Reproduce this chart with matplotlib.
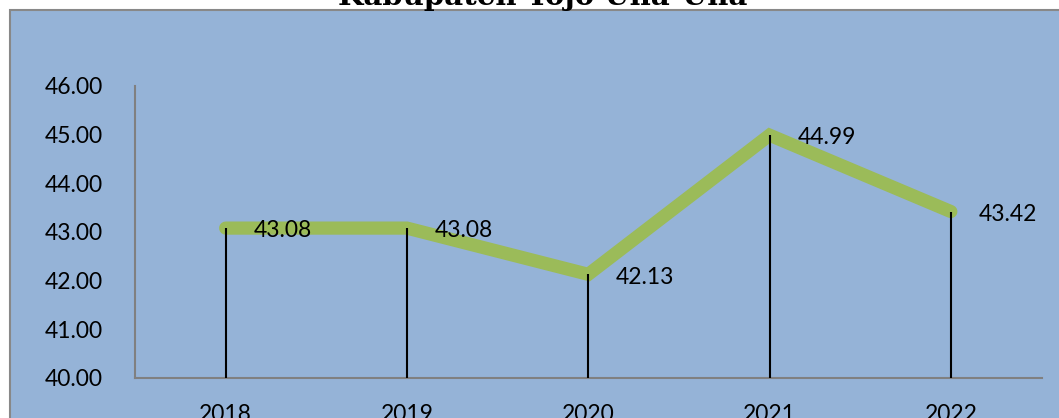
import matplotlib.pyplot as plt
from matplotlib.patches import Rectangle

# data
years = ["2018", "2019", "2020", "2021", "2022"]
values = [43.08, 43.08, 42.13, 44.99, 43.42]
y_ticks = [40, 41, 42, 43, 44, 45, 46]
title = "Kabupaten Tojo Una-Una"

W, H = 1059, 418
BLUE = "#95B3D7"
GREEN = "#9BBB59"
FS = 16.5

fig = plt.figure(figsize=(W / 100, H / 100), dpi=100)
fig.patch.set_facecolor("white")

# blue chart panel with grey border on top / left
panel = Rectangle((10 / W, -0.1), 1.2, 1.1 - 10 / H, transform=fig.transFigure,
                  facecolor=BLUE, edgecolor="#888888", linewidth=1.5, zorder=-5)
fig.patches.append(panel)

fig.text(543 / W, 1 - 5 / H, title, ha="center", va="baseline",
         fontsize=21, fontweight="bold", family="DejaVu Serif")

ax = fig.add_axes([135 / W, 1 - 378 / H, (1041.5 - 135) / W, (378 - 86) / H])
ax.set_zorder(2)
ax.set_facecolor(BLUE)

x = list(range(len(years)))

# drop lines
ax.vlines(x, 40, values, colors="black", linewidth=1.5, zorder=3)
ax.plot(x, values, color=GREEN, linewidth=9.5, solid_capstyle="round",
        solid_joinstyle="miter", zorder=2)

for xi, v in zip(x, values):
    ax.annotate(f"{v:.2f}", (xi, v), xytext=(20, -2), textcoords="offset points",
                ha="left", va="center", fontsize=FS, family="Lato")

ax.set_xlim(-0.5, 4.5)
ax.set_ylim(40, 46)
ax.set_xticks(x)
ax.set_xticklabels(years, family="Lato", fontsize=FS)
ax.set_yticks(y_ticks)
ax.set_yticklabels([f"{t:.2f}" for t in y_ticks], family="Lato", fontsize=FS)
ax.tick_params(axis="both", length=0)
ax.tick_params(axis="y", pad=23)
ax.tick_params(axis="x", pad=19)

for side in ["top", "right"]:
    ax.spines[side].set_visible(False)
for side in ["left", "bottom"]:
    ax.spines[side].set_color("#808080")
    ax.spines[side].set_linewidth(1.5)

fig.savefig("out.png", dpi=100, facecolor=fig.get_facecolor())
